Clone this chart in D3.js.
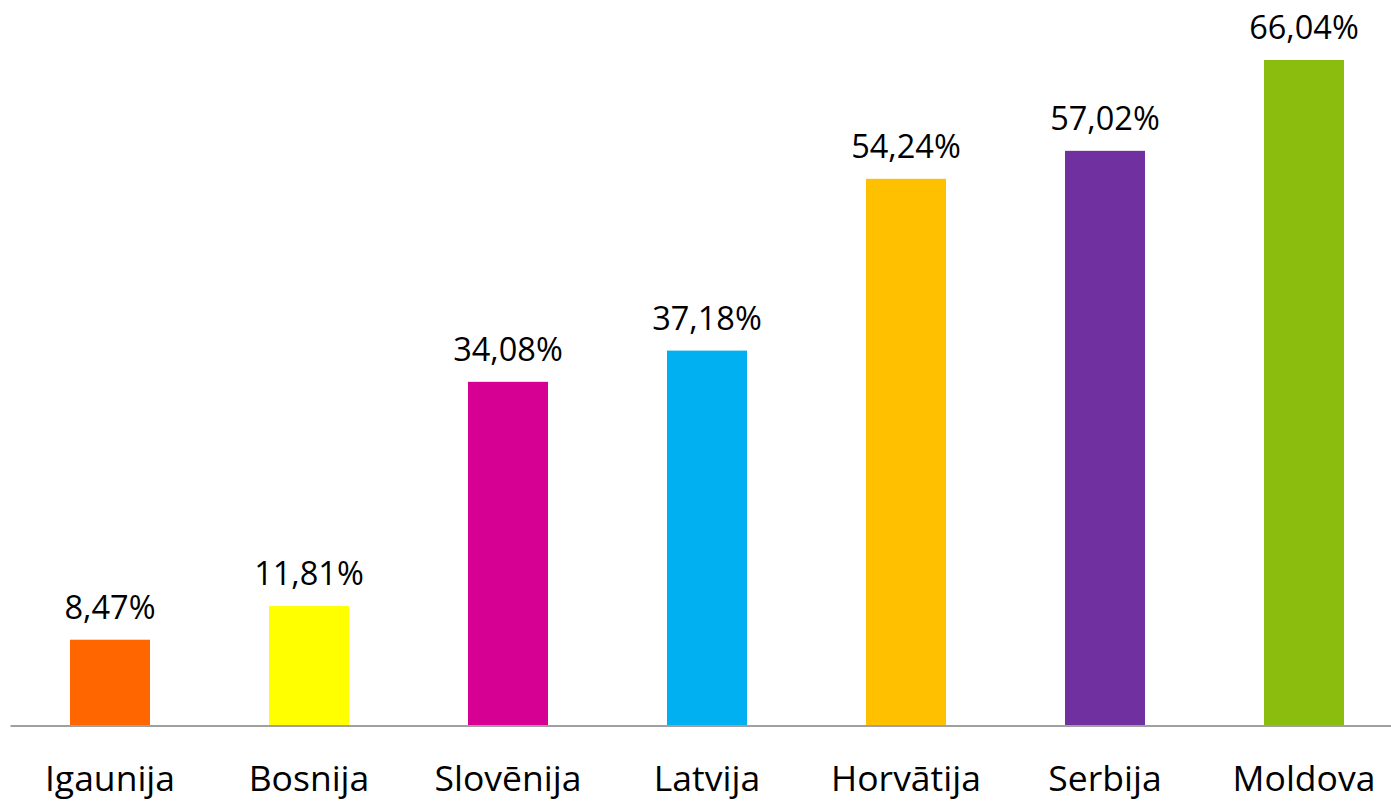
<!DOCTYPE html>
<html>
<head>
<meta charset="utf-8">
<script src="https://cdn.jsdelivr.net/npm/d3@7"></script>
<style>
  html, body { margin: 0; padding: 0; background: #fff; }
  svg { display: block; }
  text { font-family: "Open Sans", Lato, sans-serif; fill: #000; }
</style>
</head>
<body>
<div id="chart"></div>
<script>
const categories = ['Igaunija', 'Bosnija', 'Slovēnija', 'Latvija', 'Horvātija', 'Serbija', 'Moldova'];
const values = [8.47, 11.81, 34.08, 37.18, 54.24, 57.02, 66.04];
const colors = ['#FF6600', '#FFFF00', '#D60093', '#00B0F0', '#FFC000', '#7030A0', '#8ABD0E'];

const width = 1391, height = 801;
const margin = { left: 10.5, right: -12.5, top: 60, bottom: 76 };

const svg = d3.select('#chart').append('svg')
  .attr('width', width)
  .attr('height', height);

const x = d3.scaleBand()
  .domain(categories)
  .range([margin.left, width - margin.right])
  .paddingInner(0.598)
  .paddingOuter(0.299);

const y = d3.scaleLinear()
  .domain([0, 66.04])
  .range([height - margin.bottom, margin.top]);

const fmt = v => v.toFixed(2).replace('.', ',') + '%';

// bars
svg.selectAll('rect.bar')
  .data(values)
  .enter()
  .append('rect')
  .attr('class', 'bar')
  .attr('x', (d, i) => x(categories[i]))
  .attr('y', d => y(d))
  .attr('width', x.bandwidth())
  .attr('height', d => y(0) - y(d))
  .attr('fill', (d, i) => colors[i]);

// axis line
svg.append('line')
  .attr('x1', margin.left)
  .attr('x2', width)
  .attr('y1', y(0) + 1)
  .attr('y2', y(0) + 1)
  .attr('stroke', '#A0A0A0')
  .attr('stroke-width', 2);

// value labels
svg.selectAll('text.val')
  .data(values)
  .enter()
  .append('text')
  .attr('class', 'val')
  .attr('x', (d, i) => x(categories[i]) + x.bandwidth() / 2)
  .attr('y', d => y(d) - 21)
  .attr('text-anchor', 'middle')
  .style('font-size', '32.5px')
  .text(fmt);

// category labels
svg.selectAll('text.cat')
  .data(categories)
  .enter()
  .append('text')
  .attr('class', 'cat')
  .attr('x', d => x(d) + x.bandwidth() / 2)
  .attr('y', 791)
  .attr('text-anchor', 'middle')
  .style('font-size', '35.5px')
  .text(d => d);
</script>
</body>
</html>
